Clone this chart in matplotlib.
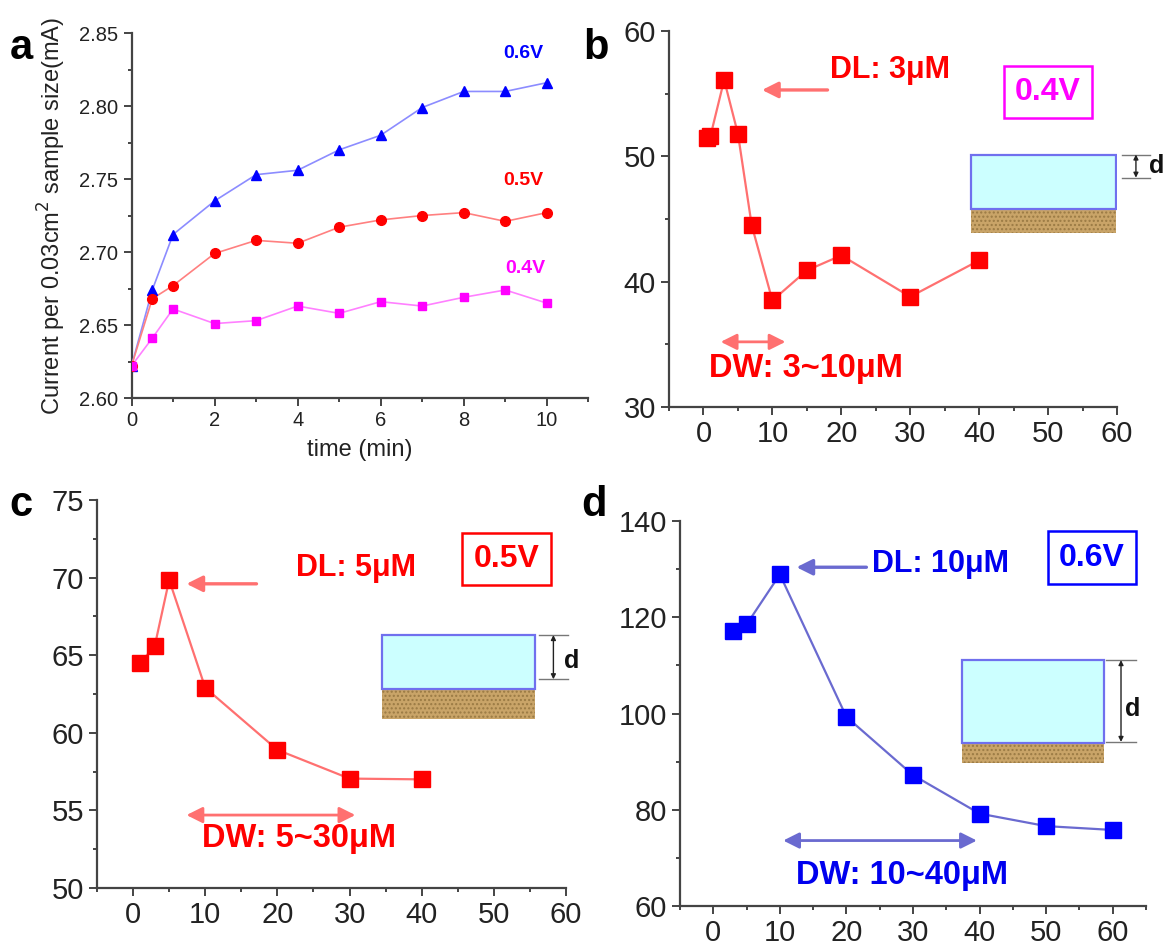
import numpy as np
import matplotlib
matplotlib.use("Agg")
import matplotlib.pyplot as plt
from matplotlib.patches import Rectangle
from matplotlib.ticker import MultipleLocator, FormatStrFormatter

plt.rcParams['font.family'] = ['Liberation Sans', 'DejaVu Sans']

# (a) current vs time at three bias voltages
time_min = [0, 0.5, 1, 2, 3, 4, 5, 6, 7, 8, 9, 10]
cur_06 = [2.622, 2.674, 2.712, 2.735, 2.753, 2.756, 2.770, 2.780, 2.799, 2.810, 2.810, 2.816]
cur_05 = [2.622, 2.668, 2.677, 2.699, 2.708, 2.706, 2.717, 2.722, 2.725, 2.727, 2.721, 2.727]
cur_04 = [2.622, 2.641, 2.661, 2.651, 2.653, 2.663, 2.658, 2.666, 2.663, 2.669, 2.674, 2.665]

# (b)-(d) response vs concentration (uM)
conc_b = [0.5, 1, 3, 5, 7, 10, 15, 20, 30, 40]
resp_b = [51.5, 51.6, 56.1, 51.8, 44.5, 38.5, 40.9, 42.1, 38.8, 41.7]
conc_c = [1, 3, 5, 10, 20, 30, 40]
resp_c = [64.5, 65.6, 69.85, 62.9, 58.9, 57.05, 57.0]
conc_d = [3, 5, 10, 20, 30, 40, 50, 60]
resp_d = [117.2, 118.5, 128.9, 99.3, 87.2, 79.2, 76.6, 75.8]

AXC = '#444444'


def style_axes(ax, fs):
    for s in ['top', 'right']:
        ax.spines[s].set_visible(False)
    for s in ['left', 'bottom']:
        ax.spines[s].set_color(AXC)
        ax.spines[s].set_linewidth(1.6)
    ax.tick_params(which='both', direction='out', color=AXC, width=1.4,
                   labelsize=fs, labelcolor='#222222')
    ax.tick_params(which='major', length=6)
    ax.tick_params(which='minor', length=3)


def layer_inset(ax, x0, w, y_sub, h_sub, h_film, dx0, dx1, dy_top, dy_bot, d_xy):
    # substrate + film sketch with thickness marker
    ax.add_patch(Rectangle((x0, y_sub), w, h_sub, facecolor='#c9a468',
                           edgecolor='#9a7a44', hatch='....', lw=0, zorder=3))
    ax.add_patch(Rectangle((x0, y_sub + h_sub), w, h_film, facecolor='#ccffff',
                           edgecolor='#7070ee', lw=1.6, zorder=3))
    for yy in (dy_top, dy_bot):
        ax.plot([dx0, dx1], [yy, yy], color='#777777', lw=1.0, clip_on=False, zorder=3)
    xm = (dx0 + dx1) / 2
    ax.annotate('', xy=(xm, dy_top), xytext=(xm, dy_bot),
                arrowprops=dict(arrowstyle='<|-|>', color='#222222', lw=1.0,
                                mutation_scale=7, shrinkA=0, shrinkB=0),
                annotation_clip=False)
    ax.text(d_xy[0], d_xy[1], 'd', fontsize=18, fontweight='bold',
            ha='center', va='center', color='#111111')


def conc_panel(ax, x, y, mcol, lcol, tcol, ylim, ymaj, xlim,
               dl_text, dl_arrow, dl_pos, v_text, v_col, v_pos,
               dw_text, dw_arrow, dw_pos):
    ax.plot(x, y, '-', color=lcol, lw=1.6, zorder=4)
    ax.plot(x, y, 's', color=mcol, ms=11, zorder=5, ls='none')
    ax.set_xlim(*xlim)
    ax.set_ylim(*ylim)
    ax.set_xticks(range(0, 61, 10))
    ax.xaxis.set_minor_locator(MultipleLocator(5))
    ax.yaxis.set_major_locator(MultipleLocator(ymaj))
    ax.yaxis.set_minor_locator(MultipleLocator(ymaj / 2))
    style_axes(ax, 21)

    # detection limit arrow
    ax.annotate('', xy=(dl_arrow[1], dl_arrow[2]), xytext=(dl_arrow[0], dl_arrow[2]),
                arrowprops=dict(arrowstyle='-|>', color=lcol, lw=2.4,
                                mutation_scale=24, shrinkA=0, shrinkB=0))
    ax.text(dl_pos[0], dl_pos[1], dl_text, color=tcol, fontsize=22, fontweight='bold',
            ha='left', va='center')
    # voltage box
    ax.text(v_pos[0], v_pos[1], v_text, color=v_col, fontsize=23, fontweight='bold',
            ha='center', va='center',
            bbox=dict(boxstyle='square,pad=0.35', facecolor='white',
                      edgecolor=v_col, lw=1.8))
    # dynamic window arrow
    ax.annotate('', xy=(dw_arrow[1], dw_arrow[2]), xytext=(dw_arrow[0], dw_arrow[2]),
                arrowprops=dict(arrowstyle='<|-|>', color=lcol, lw=2.0,
                                mutation_scale=24, shrinkA=0, shrinkB=0))
    ax.text(dw_pos[0], dw_pos[1], dw_text, color=tcol, fontsize=23.5, fontweight='bold',
            ha='left', va='center')


fig = plt.figure(figsize=(11.69, 9.47), dpi=100)

# ---- (a) ----
ax_a = fig.add_axes([0.1125, 0.5797, 0.3908, 0.3854])
ax_a.plot(time_min, cur_06, '-', color='#8c8cff', lw=1.2, zorder=3)
ax_a.plot(time_min, cur_06, '^', color='#0000ff', ms=7, ls='none', zorder=4)
ax_a.plot(time_min, cur_05, '-', color='#ff8080', lw=1.2, zorder=3)
ax_a.plot(time_min, cur_05, 'o', color='#ff0000', ms=7, ls='none', zorder=4)
ax_a.plot(time_min, cur_04, '-', color='#ff80ff', lw=1.2, zorder=3)
ax_a.plot(time_min, cur_04, 's', color='#ff00ff', ms=6, ls='none', zorder=4)
ax_a.set_xlim(0, 11.0)
ax_a.set_ylim(2.60, 2.85)
ax_a.set_xticks(range(0, 11, 2))
ax_a.xaxis.set_minor_locator(MultipleLocator(1))
ax_a.yaxis.set_major_locator(MultipleLocator(0.05))
ax_a.yaxis.set_minor_locator(MultipleLocator(0.025))
ax_a.yaxis.set_major_formatter(FormatStrFormatter('%.2f'))
style_axes(ax_a, 14.5)
ax_a.set_xlabel('time (min)', fontsize=17, color='#222222', labelpad=6)
ax_a.set_ylabel('Current per 0.03cm$^2$ sample size(mA)', fontsize=17,
                color='#222222', labelpad=8)
ax_a.text(8.95, 2.836, '0.6V', color='#0000ff', fontsize=14, fontweight='bold', va='center')
ax_a.text(8.95, 2.749, '0.5V', color='#ff0000', fontsize=14, fontweight='bold', va='center')
ax_a.text(9.0, 2.689, '0.4V', color='#ff00ff', fontsize=14, fontweight='bold', va='center')

# ---- (b) ----
ax_b = fig.add_axes([0.5723, 0.5702, 0.3832, 0.397])
conc_panel(ax_b, conc_b, resp_b, '#ff0000', '#ff7070', '#ff0000',
           (30, 60), 10, (-5, 60),
           'DL: 3μM', (18, 8.5, 55.3), (18.3, 56.9),
           '0.4V', '#ff00ff', (50, 55.15),
           'DW: 3~10μM', (2.5, 11.9, 35.2), (0.8, 33.1))
layer_inset(ax_b, 38.8, 21.0, 43.9, 1.9, 4.35, 60.7, 64.8, 50.15, 48.3, (65.8, 49.2))

# ---- (c) ----
ax_c = fig.add_axes([0.083, 0.0623, 0.4012, 0.4097])
conc_panel(ax_c, conc_c, resp_c, '#ff0000', '#ff7070', '#ff0000',
           (50, 75), 5, (-5, 60),
           'DL: 5μM', (17.1, 7.4, 69.6), (22.6, 70.6),
           '0.5V', '#ff0000', (51.75, 71.2),
           'DW: 5~30μM', (7.4, 30.8, 54.7), (9.5, 53.2))
layer_inset(ax_c, 34.5, 21.2, 60.9, 1.9, 3.5, 56.2, 60.3, 66.3, 63.45, (60.8, 64.6))

# ---- (d) ----
ax_d = fig.add_axes([0.5817, 0.0433, 0.3986, 0.4065])
conc_panel(ax_d, conc_d, resp_d, '#0000ff', '#6a6ad0', '#0000ee',
           (60, 140), 20, (-5, 65),
           'DL: 10μM', (23, 12.5, 130.4), (23.8, 131.1),
           '0.6V', '#0000ff', (56.85, 132.4),
           'DW: 10~40μM', (10.5, 39.6, 73.6), (12.5, 66.4))
layer_inset(ax_d, 37.4, 21.3, 89.8, 4.0, 17.3, 59.0, 63.5, 111.1, 94.1, (63.0, 101))

# panel letters
for lbl, (px, py) in zip('abcd', [(0.008, 0.938), (0.499, 0.938), (0.008, 0.455), (0.497, 0.455)]):
    fig.text(px, py, lbl, fontsize=30, fontweight='bold', ha='left', va='baseline')

fig.savefig('out.png', dpi=100, facecolor='white')
